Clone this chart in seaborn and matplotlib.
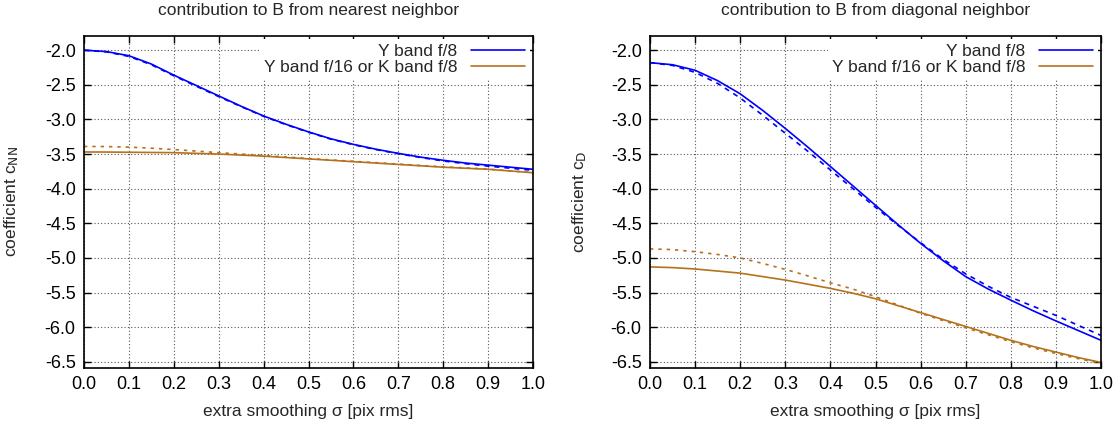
import numpy as np
import pandas as pd
import seaborn as sns
import matplotlib.pyplot as plt

# extra smoothing sigma [pix rms]
sigma = [0.0, 0.05, 0.1, 0.15, 0.2, 0.25, 0.3, 0.35, 0.4, 0.45, 0.5,
	0.55, 0.6, 0.65, 0.7, 0.75, 0.8, 0.85, 0.9, 0.95, 1.0]

# nearest neighbor coefficient c_NN
nn_y8_solid = [-2.00, -2.02, -2.08, -2.20, -2.36, -2.51, -2.66, -2.81, -2.95, -3.07, -3.18,
	-3.28, -3.36, -3.43, -3.49, -3.545, -3.59, -3.63, -3.66, -3.69, -3.72]
nn_y8_dash = [-2.00, -2.025, -2.09, -2.21, -2.37, -2.52, -2.67, -2.815, -2.955, -3.075, -3.185,
	-3.285, -3.365, -3.435, -3.495, -3.55, -3.60, -3.64, -3.675, -3.705, -3.735]
nn_y16_solid = [-3.47, -3.471, -3.474, -3.477, -3.48, -3.49, -3.50, -3.515, -3.53, -3.55, -3.57,
	-3.59, -3.61, -3.63, -3.65, -3.67, -3.69, -3.705, -3.72, -3.745, -3.77]
nn_y16_dash = [-3.39, -3.392, -3.40, -3.415, -3.435, -3.457, -3.48, -3.50, -3.52, -3.543, -3.565,
	-3.585, -3.605, -3.625, -3.645, -3.665, -3.685, -3.70, -3.718, -3.743, -3.768]

# diagonal neighbor coefficient c_D
d_y8_solid = [-2.18, -2.21, -2.29, -2.44, -2.63, -2.87, -3.13, -3.40, -3.68, -3.96, -4.24,
	-4.52, -4.79, -5.04, -5.27, -5.45, -5.61, -5.765, -5.91, -6.05, -6.19]
d_y8_dash = [-2.18, -2.22, -2.32, -2.48, -2.69, -2.94, -3.20, -3.46, -3.73, -4.00, -4.27,
	-4.53, -4.78, -5.02, -5.23, -5.41, -5.57, -5.70, -5.83, -5.975, -6.12]
d_y16_solid = [-5.13, -5.14, -5.16, -5.19, -5.22, -5.27, -5.32, -5.38, -5.44, -5.51, -5.59,
	-5.69, -5.79, -5.89, -5.99, -6.09, -6.19, -6.28, -6.36, -6.44, -6.51]
d_y16_dash = [-4.87, -4.88, -4.91, -4.95, -5.00, -5.08, -5.165, -5.26, -5.36, -5.45, -5.56,
	-5.68, -5.80, -5.905, -6.01, -6.11, -6.21, -6.30, -6.38, -6.455, -6.525]

titles = ["contribution to B from nearest neighbor", "contribution to B from diagonal neighbor"]
ylabels = [r"coefficient c$_{\rm NN}$", r"coefficient c$_{\rm D}$"]
labels = ["Y band f/8", "Y band f/16 or K band f/8"]

BLUE = "#0000ff"
BROWN = "#b5711c"

sns.set_style("ticks")
plt.rcParams["font.family"] = ["Liberation Sans", "DejaVu Sans"]
plt.rcParams["axes.unicode_minus"] = False
plt.rcParams["mathtext.default"] = "regular"

fig = plt.figure(figsize=(11.2, 4.3), dpi=100)
ax1 = fig.add_axes([84 / 1120, 62 / 430, 449 / 1120, 332 / 430])
ax2 = fig.add_axes([650 / 1120, 62 / 430, 451 / 1120, 332 / 430])

panels = [
	(ax1, nn_y8_solid, nn_y8_dash, nn_y16_solid, nn_y16_dash, -0.14),
	(ax2, d_y8_solid, d_y8_dash, d_y16_solid, d_y16_dash, -0.135),
]

for i, (ax, y8s, y8d, y16s, y16d, ylab_x) in enumerate(panels):
	sns.lineplot(x=sigma, y=y8s, ax=ax, color=BLUE, lw=1.2, label=labels[0])
	sns.lineplot(x=sigma, y=y16s, ax=ax, color=BROWN, lw=1.2, label=labels[1])
	sns.lineplot(x=sigma, y=y8d, ax=ax, color=BLUE, lw=1.2, linestyle=(0, (3, 3)))
	sns.lineplot(x=sigma, y=y16d, ax=ax, color=BROWN, lw=1.2, linestyle=(0, (2, 3)))

	ax.set_xlim(0, 1)
	ax.set_ylim(-6.59, -1.795)
	ax.set_xticks(np.arange(0, 1.01, 0.1))
	ax.set_yticks(np.arange(-6.5, -1.99, 0.5))
	ax.xaxis.set_major_formatter(plt.FormatStrFormatter("%.1f"))
	ax.yaxis.set_major_formatter(plt.FormatStrFormatter("%.1f"))
	ax.tick_params(direction="in", length=5, width=1, top=True, right=True,
		labelsize=13, pad=6, colors="black")
	ax.grid(True, color="#555555", linestyle=(0, (1, 2)), linewidth=0.8)
	for s in ax.spines.values():
		s.set_linewidth(1.2)
		s.set_color("black")

	ax.set_title(titles[i], fontsize=12.5, pad=15)
	ax.set_xlabel("extra smoothing σ [pix rms]", fontsize=12.5, labelpad=8)
	ax.set_ylabel(ylabels[i], fontsize=12.5)
	ax.yaxis.set_label_coords(ylab_x, 0.5)

	leg = ax.legend(loc="upper right", markerfirst=False, fontsize=12.5,
		handlelength=3.1, handletextpad=0.8, labelspacing=0.05,
		borderpad=0.25, borderaxespad=0.2, frameon=True, fancybox=False)
	leg.get_frame().set_facecolor("white")
	leg.get_frame().set_edgecolor("none")
	leg.get_frame().set_alpha(1)
	for t in leg.get_texts():
		t.set_ha("right")

fig.savefig("out.png", dpi=100)
plt.close()
